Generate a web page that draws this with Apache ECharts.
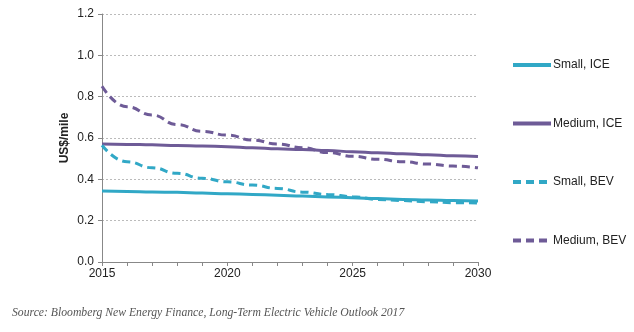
<!DOCTYPE html>
<html><head><meta charset="utf-8">
<script src="https://cdn.jsdelivr.net/npm/echarts@6/dist/echarts.min.js"></script>
<style>html,body{margin:0;padding:0;background:#fff;}#c{width:634px;height:332px;}</style>
</head><body><div id="c"></div>
<script>
const years = ['2015','2016','2017','2018','2019','2020','2021','2022','2023','2024','2025','2026','2027','2028','2029','2030'];
const smallICE  = [0.343,0.341,0.339,0.337,0.334,0.330,0.327,0.323,0.319,0.315,0.311,0.307,0.303,0.300,0.297,0.295];
const mediumICE = [0.571,0.569,0.567,0.564,0.561,0.558,0.553,0.548,0.544,0.539,0.534,0.529,0.524,0.519,0.514,0.510];
const smallBEV  = [0.565,0.485,0.456,0.429,0.405,0.388,0.372,0.356,0.338,0.327,0.316,0.303,0.297,0.292,0.287,0.285];
const mediumBEV = [0.850,0.751,0.711,0.665,0.632,0.614,0.590,0.571,0.553,0.530,0.512,0.497,0.485,0.474,0.464,0.456];
const names = ['Small, ICE','Medium, ICE','Small, BEV','Medium, BEV'];
const teal = '#31a8c6', purple = '#6e5b97';

const chart = echarts.init(document.getElementById('c'));
const mk = (name, data, color, dashed) => ({
  name, type:'line', data, symbol:'none', smooth:true, smoothMonotone:'x',
  lineStyle:{color, width:3, type: dashed ? [8,5] : 'solid'},
  itemStyle:{color}
});
chart.setOption({
  animation:false,
  grid:{left:102,right:156,top:14,bottom:70},
  legend:{
    orient:'vertical', left:511, top:59, itemGap:46.5, padding:0,
    itemWidth:38, itemHeight:12,
    itemStyle:{opacity:0},
    lineStyle:{width:4},
    textStyle:{fontFamily:'Arial, "Liberation Sans"',fontSize:12,color:'#222',padding:[0,0,0,-3]},
    data: names
  },
  xAxis:{
    type:'category', data:years, boundaryGap:false,
    axisLine:{lineStyle:{color:'#888'}},
    axisTick:{show:true, interval:0, length:4, lineStyle:{color:'#888'}},
    axisLabel:{interval:4, color:'#222', fontFamily:'Arial, "Liberation Sans"', fontSize:12, margin:6},
    splitLine:{show:false}
  },
  yAxis:{
    type:'value', min:0, max:1.2, interval:0.2,
    name:'US$/mile', nameLocation:'middle', nameGap:31, nameMoveOverlap:false,
    nameTextStyle:{fontFamily:'Arial, "Liberation Sans"', fontSize:12, fontWeight:'bold', color:'#222'},
    axisLine:{show:true, lineStyle:{color:'#888'}},
    axisTick:{show:true, length:4, lineStyle:{color:'#888'}},
    axisLabel:{color:'#222', fontFamily:'Arial, "Liberation Sans"', fontSize:12, margin:8,
      formatter:v=>v.toFixed(1)},
    splitLine:{lineStyle:{color:'#bbb', type:[2,2]}}
  },
  series:[
    mk(names[0], smallICE, teal, false),
    mk(names[1], mediumICE, purple, false),
    mk(names[2], smallBEV, teal, true),
    mk(names[3], mediumBEV, purple, true)
  ],
  graphic:[
    {type:'text', left:12, top:307, style:{text:'Source: Bloomberg New Energy Finance, Long-Term Electric Vehicle Outlook 2017',
      font:'italic 11.7px "Liberation Serif", "DejaVu Serif", serif', fill:'#555'}}
  ]
});
</script></body></html>
